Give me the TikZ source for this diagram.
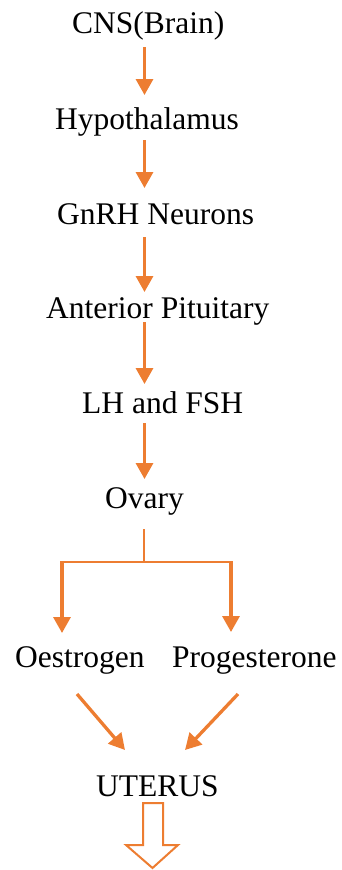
\documentclass[tikz,border=0pt]{standalone}
\usepackage{fontspec}
\setmainfont{Liberation Serif}
\usetikzlibrary{arrows.meta,calc}
\definecolor{accent}{HTML}{ED7D31}
\begin{document}
\begin{tikzpicture}[x=1pt,y=-1pt,
  lbl/.style={anchor=base west,inner sep=0pt,font=\fontsize{31.5}{36}\selectfont,text=black},
  arr/.style={draw=accent,line width=3.3pt,-{Triangle[width=17pt,length=16pt]}},
  thin/.style={draw=accent,line width=2.3pt}]
\useasboundingbox (0,0) rectangle (342,870);
\coordinate (ax) at (144.5,0);
\coordinate (lx) at (62,0);
\coordinate (rx) at (231,0);
\node[lbl] (cns) at (72,33) {CNS(Brain)};
\node[lbl] (hyp) at (55,129) {Hypothalamus};
\node[lbl] (gnrh) at (57,224) {GnRH Neurons};
\node[lbl] (ap) at (46,318) {Anterior Pituitary};
\node[lbl] (lh) at (82,413) {LH and FSH};
\node[lbl] (ov) at (105,508) {Ovary};
\node[lbl] (oe) at (15,667) {Oestrogen};
\node[lbl] (pr) at (172,667) {Progesterone};
\node[lbl] (ut) at (96,796) {UTERUS};
% chain
\draw[arr] ($(cns.base -| ax)+(0,14)$) -- ($(hyp.base -| ax)+(0,-34)$);
\draw[arr] ($(hyp.base -| ax)+(0,11)$) -- ($(gnrh.base -| ax)+(0,-36)$);
\draw[arr] ($(gnrh.base -| ax)+(0,13)$) -- ($(ap.base -| ax)+(0,-26)$);
\draw[arr] ($(ap.base -| ax)+(0,4)$) -- ($(lh.base -| ax)+(0,-29)$);
\draw[arr] ($(lh.base -| ax)+(0,10)$) -- ($(ov.base -| ax)+(0,-29)$);
% branch
\coordinate (br) at (144,562);
\draw[thin] ($(ov.base -| ax)+(-0.5,21)$) -- (br);
\draw[thin,line cap=rect] (br) -- (br -| lx);
\draw[thin,line cap=rect] (br) -- (br -| rx);
\draw[arr] ($(br -| lx)+(0,-1)$) -- ($(oe.base -| lx)+(0,-34)$);
\draw[arr] ($(br -| rx)+(0,-1)$) -- ($(pr.base -| rx)+(0,-35)$);
% to uterus
\draw[arr] ($(oe.base west)+(62,27)$) -- ($(ut.base west)+(29,-46)$);
\draw[arr] ($(pr.base west)+(66,27)$) -- ($(ut.base west)+(89,-46)$);
% hollow arrow
\draw[accent,line width=2pt,fill=white,line join=miter]
  (143,803) -- (163,803) -- (163,845) -- (178,845) -- (152.5,868) -- (126,845) -- (143,845) -- cycle;
\end{tikzpicture}
\end{document}
